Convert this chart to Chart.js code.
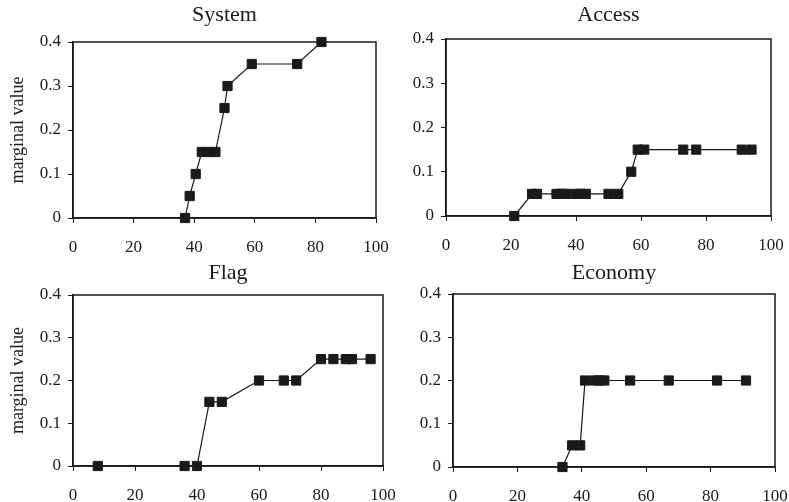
<!DOCTYPE html>
<html>
<head>
<meta charset="utf-8">
<script src="https://cdn.jsdelivr.net/npm/chart.js@4/dist/chart.umd.min.js"></script>
<style>
  body { margin: 0; background: #fff; }
  .panel { position: absolute; }
</style>
</head>
<body>
<div class="panel" style="left:0;top:0;width:395px;height:262px"><canvas id="c1"></canvas></div>
<div class="panel" style="left:395px;top:0;width:394px;height:262px"><canvas id="c2"></canvas></div>
<div class="panel" style="left:0;top:255px;width:395px;height:247px"><canvas id="c3"></canvas></div>
<div class="panel" style="left:395px;top:255px;width:394px;height:247px"><canvas id="c4"></canvas></div>
<script>
// data
const systemX = [37, 38.5, 40.5, 42.5, 44.5, 47, 50, 51, 59, 74, 82];
const systemY = [0, 0.05, 0.1, 0.15, 0.15, 0.15, 0.25, 0.3, 0.35, 0.35, 0.4];

const accessX = [21, 26.5, 28, 34, 35.5, 37, 40, 41.5, 43, 50, 53, 57, 59, 61, 73, 77, 91, 94];
const accessY = [0, 0.05, 0.05, 0.05, 0.05, 0.05, 0.05, 0.05, 0.05, 0.05, 0.05, 0.1, 0.15, 0.15, 0.15, 0.15, 0.15, 0.15];

const flagX = [8, 36, 40, 44, 48, 60, 68, 72, 80, 84, 88, 90, 96];
const flagY = [0, 0, 0, 0.15, 0.15, 0.2, 0.2, 0.2, 0.25, 0.25, 0.25, 0.25, 0.25];

const economyX = [34, 37, 39.5, 41, 44, 45.5, 47, 55, 67, 82, 91];
const economyY = [0, 0.05, 0.05, 0.2, 0.2, 0.2, 0.2, 0.2, 0.2, 0.2, 0.2];

const xTicks = [0, 20, 40, 60, 80, 100];
const yTicks = [0, 0.1, 0.2, 0.3, 0.4];

const serif = "'Liberation Serif', 'DejaVu Serif', serif";
const ink = '#1a1a1a';

// draws the top and right edges of the plot box
const boxPlugin = {
    id: 'box',
    afterDraw(chart) {
        const a = chart.chartArea;
        const ctx = chart.ctx;
        ctx.save();
        ctx.strokeStyle = ink;
        ctx.lineWidth = 1.5;
        ctx.strokeRect(a.left, a.top, a.right - a.left, a.bottom - a.top);
        ctx.restore();
    }
};

function makePanel(id, title, xs, ys, opt) {
    const points = xs.map((x, i) => ({ x: x, y: ys[i] }));
    new Chart(document.getElementById(id), {
        type: 'scatter',
        data: {
            datasets: [{
                data: points,
                showLine: true,
                clip: 10,
                borderColor: ink,
                borderWidth: 1.2,
                pointStyle: 'rect',
                pointRadius: 6.5,
                pointBackgroundColor: ink,
                pointBorderColor: ink,
                pointBorderWidth: 1
            }]
        },
        options: {
            responsive: true,
            maintainAspectRatio: false,
            animation: false,
            layout: { padding: { left: 0, right: opt.padRight, top: 0, bottom: 0 } },
            plugins: {
                legend: { display: false },
                tooltip: { enabled: false },
                title: {
                    display: true,
                    text: title,
                    fullSize: false,
                    color: ink,
                    font: { family: serif, size: 22, weight: 'normal' },
                    padding: { top: opt.titleTop, bottom: opt.titleBottom }
                }
            },
            scales: {
                x: {
                    type: 'linear',
                    min: 0,
                    max: 100,
                    afterBuildTicks: s => { s.ticks = xTicks.map(v => ({ value: v })); },
                    afterFit: s => { s.height = opt.xHeight; s.paddingLeft = 0; s.paddingRight = 0; },
                    grid: { drawOnChartArea: false, drawTicks: true, tickLength: 5, color: ink, lineWidth: 1 },
                    border: { display: true, color: ink, width: 1.5 },
                    ticks: { color: ink, padding: 14, maxRotation: 0, font: { family: serif, size: 17 } }
                },
                y: {
                    min: 0,
                    max: 0.4,
                    afterBuildTicks: s => { s.ticks = yTicks.map(v => ({ value: v })); },
                    afterFit: s => { s.width = opt.yWidth; s.paddingTop = 0; s.paddingBottom = 0; },
                    grid: { drawOnChartArea: false, drawTicks: true, tickLength: 5, color: ink, lineWidth: 1 },
                    border: { display: true, color: ink, width: 1.5 },
                    ticks: { color: ink, padding: 7, font: { family: serif, size: 17 } },
                    title: {
                        display: opt.yTitle,
                        text: 'marginal value',
                        color: ink,
                        font: { family: serif, size: 18 },
                        padding: { top: 7, bottom: 0 }
                    }
                }
            }
        },
        plugins: [boxPlugin]
    });
}

makePanel('c1', 'System', systemX, systemY, { padRight: 19, titleTop: 2, titleBottom: 13.6, xHeight: 44, yWidth: 73, yTitle: true });
makePanel('c2', 'Access', accessX, accessY, { padRight: 18, titleTop: 2, titleBottom: 10.6, xHeight: 46, yWidth: 51, yTitle: false });
makePanel('c3', 'Flag', flagX, flagY, { padRight: 12, titleTop: 4.8, titleBottom: 8.8, xHeight: 36, yWidth: 73, yTitle: true });
makePanel('c4', 'Economy', economyX, economyY, { padRight: 14, titleTop: 4.8, titleBottom: 7.8, xHeight: 35, yWidth: 58, yTitle: false });
</script>
</body>
</html>
